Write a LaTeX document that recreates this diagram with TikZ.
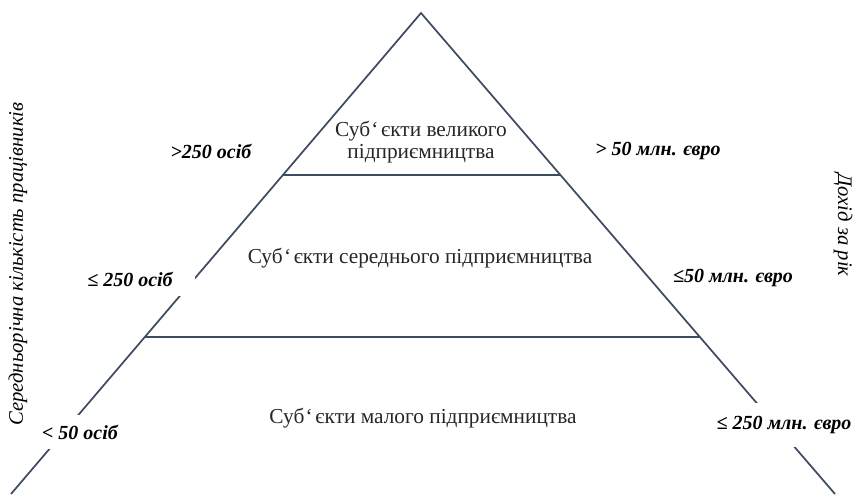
\documentclass[tikz,border=0pt]{standalone}
\usepackage{fontspec}
\setmainfont{Liberation Serif}
\definecolor{pyr}{RGB}{62,76,98}
\begin{document}
\begin{tikzpicture}[x=0.75pt,y=-0.75pt,
  side/.style={line width=1.3pt, draw=pyr},
  bar/.style={line width=1.2pt, draw=pyr},
  topbar/.style={line width=2.2pt, draw=pyr},
  tier/.style={font=\fontsize{16}{16.5}\selectfont, align=center, text=black!85},
  val/.style={font=\fontsize{15}{17}\selectfont\bfseries\itshape, fill=white, inner sep=3pt},
  axis/.style={font=\fontsize{15.5}{17}\selectfont\itshape}]
\useasboundingbox (0,0) rectangle (854,494);
\coordinate (apex) at (421,13);
\coordinate (bl) at (11,494);
\coordinate (br) at (835,494);
\coordinate (t1) at (283,175);
\coordinate (t2) at (560,175);
\coordinate (m1) at (145,337);
\coordinate (m2) at (700,337);
\draw[side] (bl) -- (apex) -- (br);
\draw[topbar] (t1) -- (t2);
\draw[bar] (m1) -- (m2);
\node[tier] (big) at (421,142) {Суб\kern1pt`\kern2pt єкти великого\\підприємництва};
\node[tier] (mid) at (420,258) {Суб\kern1pt`\kern2pt єкти середнього підприємництва};
\node[tier] (small) at (423,418) {Суб\kern1pt`\kern2pt єкти малого підприємництва};
\node[val, fill=none] (l1) at (211,151) {>250 осіб};
\node[val, minimum width=98pt, minimum height=25pt] (l2) at (130,279) {≤ 250 осіб};
\node[val, minimum width=105pt, minimum height=26pt] (l3) at (80,432) {< 50 осіб};
\node[val, fill=none] (r1) at (658,151) {> 50 млн. євро};
\node[val, fill=none] (r2) at (733,278) {≤50 млн. євро};
\node[val, minimum height=33pt] (r3) at (784,425) {≤ 250 млн. євро};
\node[axis, rotate=90] (ax1) at (18,264) {Середньорічна кількість працівників};
\node[axis, rotate=-90] (ax2) at (843,225) {Дохід за рік};
\end{tikzpicture}
\end{document}
